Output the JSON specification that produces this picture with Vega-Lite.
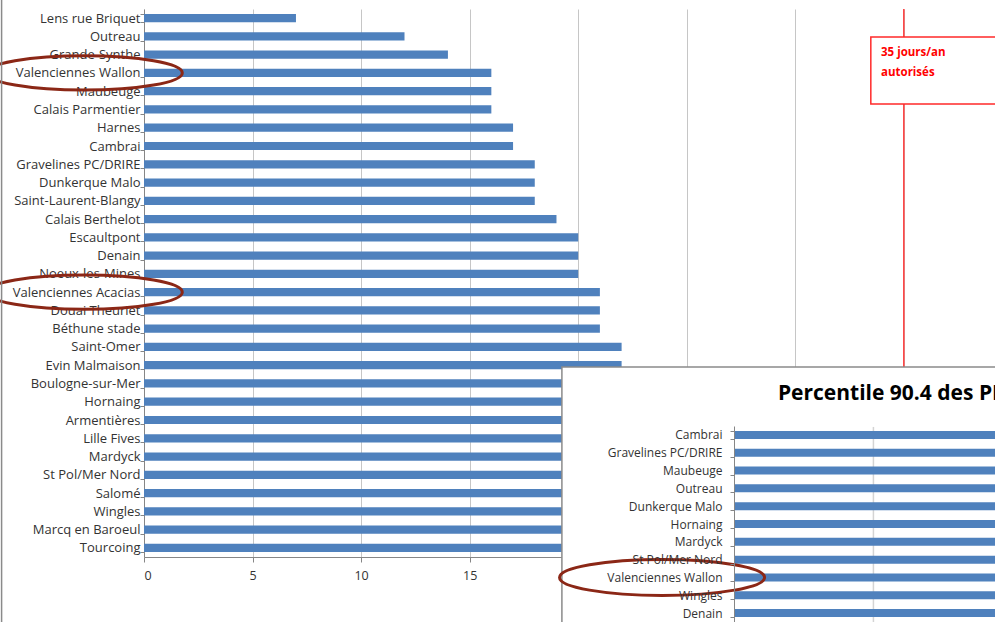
{
  "$schema": "https://vega.github.io/schema/vega-lite/v6.json",
  "width": 851,
  "height": 548,
  "autosize": {"type": "none"},
  "padding": {"left": 144, "top": 9, "right": 0, "bottom": 65},
  "background": "#ffffff",
  "config": {"view": {"stroke": null}, "font": "Open Sans", "axis": {"labelFont": "Open Sans"}, "text": {"font": "Open Sans"}},
  "layer": [
    {
      "layer": [
        {
          "data": {"values": [
            {"station": "Lens rue Briquet", "days": 7},
            {"station": "Outreau", "days": 12},
            {"station": "Grande-Synthe", "days": 14},
            {"station": "Valenciennes Wallon", "days": 16},
            {"station": "Maubeuge", "days": 16},
            {"station": "Calais Parmentier", "days": 16},
            {"station": "Harnes", "days": 17},
            {"station": "Cambrai", "days": 17},
            {"station": "Gravelines PC/DRIRE", "days": 18},
            {"station": "Dunkerque Malo", "days": 18},
            {"station": "Saint-Laurent-Blangy", "days": 18},
            {"station": "Calais Berthelot", "days": 19},
            {"station": "Escaultpont", "days": 20},
            {"station": "Denain", "days": 20},
            {"station": "Noeux-les-Mines", "days": 20},
            {"station": "Valenciennes Acacias", "days": 21},
            {"station": "Douai Theuriet", "days": 21},
            {"station": "Béthune stade", "days": 21},
            {"station": "Saint-Omer", "days": 22},
            {"station": "Evin Malmaison", "days": 22},
            {"station": "Boulogne-sur-Mer", "days": 23},
            {"station": "Hornaing", "days": 23},
            {"station": "Armentières", "days": 24},
            {"station": "Lille Fives", "days": 24},
            {"station": "Mardyck", "days": 25},
            {"station": "St Pol/Mer Nord", "days": 25},
            {"station": "Salomé", "days": 26},
            {"station": "Wingles", "days": 27},
            {"station": "Marcq en Baroeul", "days": 28},
            {"station": "Tourcoing", "days": 30}
          ]},
          "mark": {"type": "bar", "color": "#4F81BD"},
          "encoding": {
            "y": {"field": "station", "type": "nominal", "sort": null, "title": null,
              "scale": {"paddingInner": 0.55, "paddingOuter": 0.275},
              "axis": {"labelFontSize": 13, "labelColor": "#333333", "labelPadding": 0, "tickSize": 4, "tickColor": "#868686", "tickBand": "extent", "domainColor": "#868686", "labelLimit": 300}},
            "x": {"field": "days", "type": "quantitative", "title": null,
              "scale": {"domain": [0, 39.2], "nice": false},
              "axis": {"values": [0, 5, 10, 15, 20, 25, 30, 35], "grid": true, "gridColor": "#c6c6c6", "domainColor": "#868686", "tickColor": "#868686", "tickSize": 5, "labelPadding": 7, "labelFontSize": 12.5, "labelColor": "#333333"}}
          }
        },
        {
          "data": {"values": [{"limit": 35}]},
          "mark": {"type": "rule", "color": "#FF3B3B", "strokeWidth": 1.5},
          "encoding": {"x": {"field": "limit", "type": "quantitative", "title": null}}
        },
        {
          "data": {"values": [{"station": "Valenciennes Wallon"}, {"station": "Valenciennes Acacias"}]},
          "mark": {"type": "point", "shape": "M -1 0 A 1 0.175 0 1 1 1 0 A 1 0.175 0 1 1 -1 0 Z", "size": 38416, "filled": false, "stroke": "#8B2716", "strokeWidth": 3, "opacity": 1},
          "encoding": {
            "x": {"datum": -2.75, "type": "quantitative"},
            "y": {"field": "station", "type": "nominal", "sort": null, "title": null}
          }
        }
      ]
    },
    {
      "layer": [
        {
          "data": {"values": [{}]},
          "mark": {"type": "rule", "color": "#8a8a8a", "strokeWidth": 1.5},
          "encoding": {
            "x": {"datum": -6.56, "type": "quantitative", "scale": {"domain": [0, 39.2], "nice": false, "zero": false}, "axis": null},
            "y": {"datum": -1, "type": "quantitative", "scale": {"domain": [0, 30], "nice": false, "zero": false, "reverse": true}, "axis": null},
            "y2": {"datum": 36}
          }
        },
        {
          "data": {"values": [{}]},
          "mark": {"type": "rect", "fill": "#ffffff", "stroke": "#FF2A2A", "strokeWidth": 1.5},
          "encoding": {
            "x": {"datum": 33.48, "type": "quantitative"},
            "x2": {"datum": 41},
            "y": {"datum": 1.53, "type": "quantitative"},
            "y2": {"datum": 5.2}
          }
        },
        {
          "data": {"values": [{}]},
          "mark": {"type": "text", "align": "left", "baseline": "top", "color": "#FF0000", "fontSize": 11.5, "fontWeight": "bold", "lineHeight": 20},
          "encoding": {
            "x": {"datum": 33.95, "type": "quantitative"},
            "y": {"datum": 2.1, "type": "quantitative"},
            "text": {"value": ["35 jours/an", "autorisés"]}
          }
        },
        {
          "data": {"values": [{}]},
          "mark": {"type": "rect", "fill": "#ffffff", "stroke": "#8a8a8a", "strokeWidth": 1.5},
          "encoding": {
            "x": {"datum": 19.25, "type": "quantitative"},
            "x2": {"datum": 41},
            "y": {"datum": 19.6, "type": "quantitative"},
            "y2": {"datum": 36}
          }
        },
        {
          "data": {"values": [{}]},
          "mark": {"type": "rule", "color": "#d4d4d4", "strokeWidth": 1.5},
          "encoding": {
            "x": {"datum": 33.6, "type": "quantitative"},
            "y": {"datum": 22.88, "type": "quantitative"},
            "y2": {"datum": 36}
          }
        },
        {
          "data": {"values": [{}]},
          "mark": {"type": "text", "align": "left", "baseline": "middle", "color": "#000000", "fontSize": 21, "fontWeight": "bold"},
          "encoding": {
            "x": {"datum": 29.2, "type": "quantitative"},
            "y": {"datum": 21.1, "type": "quantitative"},
            "text": {"value": "Percentile 90.4 des PM10"}
          }
        }
      ]
    },
    {
      "layer": [
        {
          "data": {"values": [
            {"station": "Cambrai", "value": 40},
            {"station": "Gravelines PC/DRIRE", "value": 41},
            {"station": "Maubeuge", "value": 41},
            {"station": "Outreau", "value": 42},
            {"station": "Dunkerque Malo", "value": 42},
            {"station": "Hornaing", "value": 43},
            {"station": "Mardyck", "value": 43},
            {"station": "St Pol/Mer Nord", "value": 44},
            {"station": "Valenciennes Wallon", "value": 44},
            {"station": "Wingles", "value": 45},
            {"station": "Denain", "value": 45}
          ]},
          "mark": {"type": "bar", "color": "#4F81BD"},
          "encoding": {
            "y": {"field": "station", "type": "nominal", "sort": null, "title": null,
              "scale": {"range": [417, 613], "paddingInner": 0.55, "paddingOuter": 0.275},
              "axis": {"orient": "left", "offset": -590, "labelFontSize": 12, "labelColor": "#333333", "labelPadding": 8, "tickSize": 4, "tickBand": "extent", "tickColor": "#868686", "domainColor": "#868686", "zindex": 1, "labelLimit": 300}},
            "x": {"field": "value", "type": "quantitative", "title": null,
              "scale": {"domain": [0, 60], "range": [590, 1430], "nice": false}, "axis": null}
          }
        },
        {
          "data": {"values": [{"station": "Valenciennes Wallon"}]},
          "mark": {"type": "point", "shape": "M -1 0 A 1 0.175 0 1 1 1 0 A 1 0.175 0 1 1 -1 0 Z", "size": 42025, "filled": false, "stroke": "#8B2716", "strokeWidth": 3, "opacity": 1},
          "encoding": {
            "x": {"datum": -5.14, "type": "quantitative"},
            "y": {"field": "station", "type": "nominal", "sort": null, "title": null}
          }
        }
      ]
    }
  ],
  "resolve": {"scale": {"x": "independent", "y": "independent"}, "axis": {"x": "independent", "y": "independent"}}
}
